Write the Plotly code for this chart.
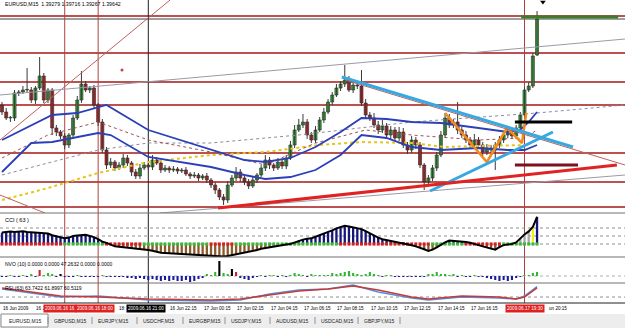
import plotly.graph_objects as go

# ---------------- data ----------------
N_BARS = 129
bar_index = list(range(N_BARS))
PIP = 0.0001

open_ = [1.3878,1.3871,1.3865,1.3865,1.3890,1.3891,1.3893,1.3893,1.3883,1.3895,
         1.3907,1.3883,1.3893,1.3855,1.3851,1.3847,1.3838,1.3848,1.3865,1.3883,
         1.3899,1.3893,1.3895,1.3878,1.3861,1.3833,1.3818,1.3821,1.3815,1.3818,
         1.3825,1.3820,1.3811,1.3807,1.3815,1.3818,1.3816,1.3823,1.3820,1.3813,
         1.3815,1.3813,1.3814,1.3812,1.3813,1.3809,1.3807,1.3808,1.3805,1.3807,
         1.3803,1.3798,1.3793,1.3786,1.3783,1.3798,1.3805,1.3811,1.3805,1.3801,
         1.3797,1.3803,1.3808,1.3815,1.3823,1.3818,1.3815,1.3821,1.3817,1.3825,
         1.3838,1.3853,1.3858,1.3861,1.3848,1.3843,1.3853,1.3863,1.3871,1.3881,
         1.3888,1.3895,1.3899,1.3903,1.3893,1.3898,1.3897,1.3880,1.3868,1.3865,
         1.3858,1.3853,1.3857,1.3848,1.3853,1.3845,1.3851,1.3838,1.3833,1.3843,
         1.3838,1.3818,1.3801,1.3805,1.3815,1.3828,1.3848,1.3865,1.3858,1.3861,
         1.3853,1.3848,1.3843,1.3838,1.3843,1.3838,1.3831,1.3835,1.3833,1.3838,
         1.3843,1.3848,1.3850,1.3847,1.3855,1.3868,1.3893,1.3897,1.3928]
close = [1.3871,1.3865,1.3865,1.3890,1.3891,1.3893,1.3893,1.3883,1.3895,1.3907,
         1.3883,1.3893,1.3855,1.3851,1.3847,1.3838,1.3848,1.3865,1.3883,1.3899,
         1.3893,1.3895,1.3878,1.3861,1.3833,1.3818,1.3821,1.3815,1.3818,1.3825,
         1.3820,1.3811,1.3807,1.3815,1.3818,1.3816,1.3823,1.3820,1.3813,1.3815,
         1.3813,1.3814,1.3812,1.3813,1.3809,1.3807,1.3808,1.3805,1.3807,1.3803,
         1.3798,1.3793,1.3786,1.3783,1.3798,1.3805,1.3811,1.3805,1.3801,1.3797,
         1.3803,1.3808,1.3815,1.3823,1.3818,1.3815,1.3821,1.3817,1.3825,1.3838,
         1.3853,1.3858,1.3861,1.3848,1.3843,1.3853,1.3863,1.3871,1.3881,1.3888,
         1.3895,1.3899,1.3903,1.3893,1.3898,1.3897,1.3880,1.3868,1.3865,1.3858,
         1.3853,1.3857,1.3848,1.3853,1.3845,1.3851,1.3838,1.3833,1.3843,1.3838,
         1.3818,1.3801,1.3805,1.3815,1.3828,1.3848,1.3865,1.3858,1.3861,1.3853,
         1.3848,1.3843,1.3838,1.3843,1.3838,1.3831,1.3835,1.3833,1.3838,1.3843,
         1.3848,1.3850,1.3847,1.3855,1.3868,1.3893,1.3897,1.3927,1.3964]
# wick lengths in pips above / below the body
up_wick = [3,4,2,3,2,4,22,3,2,19,
           3,2,2,3,2,3,2,3,4,13,
           3,2,3,2,3,3,4,2,3,4,
           3,2,3,4,3,2,5,3,2,3,
           2,3,2,2,3,2,3,2,2,3,
           2,3,2,3,4,3,5,3,2,3,
           3,2,3,5,3,2,4,3,3,4,
           5,6,8,3,3,4,3,4,3,3,
           4,3,15,4,3,3,16,4,3,5,
           4,6,3,4,3,5,4,3,4,3,
           3,2,3,3,3,4,5,4,3,20,
           3,4,3,6,3,3,4,3,3,4,
           3,3,4,3,3,3,4,3,8]
lo_wick = [3,2,4,3,3,2,3,3,4,2,
           3,3,7,4,3,4,3,2,2,3,
           2,3,3,4,3,4,3,3,2,3,
           3,4,3,3,2,3,3,2,3,2,
           3,2,3,2,2,3,2,3,2,3,
           3,4,3,5,3,2,3,4,3,3,
           2,3,2,3,4,3,2,3,3,2,
           3,2,3,4,3,3,2,3,2,3,
           2,3,3,2,3,3,3,4,3,3,
           4,3,3,4,3,3,3,4,3,4,
           3,8,3,3,3,2,3,3,3,4,
           3,3,4,3,3,4,3,3,20,3,
           3,3,3,3,3,3,2,2,1]

# moving-average style lines (bar, price)
ma_upper_bars = [0,12,18,23,25,35,50,58,63,69,75,81,86,92,98,105,114,121,124,126,128]
ma_upper_vals = [1.3843,1.3868,1.3870,1.3876,1.3878,1.3853,1.3833,1.3823,1.3821,1.3825,1.3836,
                 1.3851,1.3865,1.3864,1.3861,1.3860,1.3855,1.3851,1.3853,1.3861,1.3871]
ma_lower_bars = [0,7,12,18,23,26,35,50,58,63,69,75,81,86,92,98,105,114,121,125,128]
ma_lower_vals = [1.3811,1.3840,1.3841,1.3846,1.3850,1.3848,1.3826,1.3816,1.3808,1.3804,1.3806,
                 1.3813,1.3828,1.3848,1.3845,1.3836,1.3833,1.3835,1.3833,1.3833,1.3838]
ma_mid_bars = [0,11,23,35,50,63,75,87,98,114,125,128]
ma_mid_vals = [1.3825,1.3848,1.3861,1.3843,1.3831,1.3818,1.3840,1.3853,1.3848,1.3843,1.3845,1.3853]
ma_slow_bars = [0,23,35,50,71,98,128,149]
ma_slow_vals = [1.3808,1.3833,1.3840,1.3840,1.3848,1.3861,1.3870,1.3878]
ma_yellow_bars = [0,11,23,35,50,63,76,86,98,106,114,126]
ma_yellow_vals = [1.3783,1.3795,1.3810,1.3821,1.3828,1.3831,1.3838,1.3841,1.3840,1.3836,1.3837,1.3838]

# horizontal levels and drawn objects
h_levels = [1.3967, 1.3930, 1.3901, 1.3878, 1.3830, 1.3801, 1.3776]
bid_price = 1.3964
v_red_bars = [15, 23, 125]
v_black_bars = [35]
thin_red_lines = [((-0.48, 1.3843), (40.2, 1.3983)), ((-0.48, 1.3788), (10.3, 1.3770)),
                  ((82.1, 1.3903), (149.04, 1.3818))]
thin_gray_lines = [((-0.48, 1.3888), (149.04, 1.3944)), ((37.8, 1.3770), (149.04, 1.3808))]
cyan_lines = [((81.3, 1.3906), (136.6, 1.3836)), ((102.4, 1.3792), (131.8, 1.3851))]
red_thick_line = ((51.7, 1.3775), (147.1, 1.3818))
maroon_level = ((122.7, 137.8), 1.3818)
black_level = ((122.7, 136.4), 1.3861)
green_level = ((124.2, 147.4), 1.3966)
zigzag_bars = [106.0, 116.0, 120.8, 124.4, 125.4]
zigzag_vals = [1.3870, 1.3821, 1.3855, 1.3840, 1.3870]

# CCI(63)
cci = [143,150,157,150,157,160,150,145,140,143,
       135,130,110,100,85,71,80,100,105,114,
       114,100,86,60,30,14,-10,-29,-35,-40,
       -43,-50,-55,-60,-71,-75,-85,-100,-110,-114,
       -118,-120,-125,-129,-129,-132,-135,-138,-140,-143,
       -143,-150,-155,-157,-150,-140,-130,-114,-105,-95,
       -86,-75,-60,-50,-43,-35,-25,-15,-5,0,
       20,43,55,65,71,90,110,130,143,170,
       195,215,229,220,210,200,186,160,130,100,
       80,60,50,43,30,20,14,0,-15,-30,
       -43,-65,-86,-70,-43,-10,20,43,40,35,
       29,25,15,5,-14,-30,-45,-60,-71,-40,
       -14,-5,0,20,71,120,157,214,340]
cci_levels = [0, 100, 200]
cci_trend_segments = [(0,14,'dn'),(15,24,'up'),(25,33,'dn'),(34,49,'up'),(50,55,'dn'),
                      (56,80,'up'),(81,102,'dn'),(103,110,'up'),(111,119,'dn'),(120,128,'up')]
cci_special = {124:'gray', 125:'gray', 126:'gray', 127:'yellow'}

# NVO(10)
nvo = [-1,-1,1,-1,-1,1,-1,2,-1,6,
       1,3,2,-1,2,-1,-1,-1,1,-1,
       -1,-1,-1,-1,1,-1,-1,-1,-1,-1,
       -2,-2,-3,-2,-3,-4,-3,-4,-5,-4,
       -5,-4,-5,-5,-4,-6,-5,-3,-2,2,
       1,4,15,3,2,7,4,-2,-3,-4,
       -2,-1,1,-1,1,1,-1,1,-1,1,
       3,2,1,-1,2,1,1,1,1,3,
       2,3,4,5,3,2,1,2,4,2,
       1,-1,1,1,-1,-1,-1,-1,-1,-1,
       -1,-1,2,2,4,2,2,1,2,-1,
       1,-1,-1,1,-1,-1,-2,-3,-4,-5,
       -4,-5,-4,-2,-1,1,1,3,4]
nvo_special = {9:'red', 14:'black', 52:'black', 55:'black', 56:'red'}

# third oscillator
osc_bars = [0,7,14,23,35,50,57,64,71,78,84,90,98,102,110,119,123,125,128]
osc_red = [57.5,47.5,37.5,35,30,27.5,30,40,50,55,62.5,52.5,35,30,37.5,35,30,35,58]
osc_blue = [55,45,35,37.5,27.5,25,27.5,42.5,52.5,55,65,47.5,32.5,27.5,35,32.5,30,37.5,61]
osc_level = 35

# time axis: visible (partly covered) labels, label boxes of the vertical lines
time_label_bars = [0, 8, 24, 40, 48, 56, 64, 72, 80, 88, 96, 104, 112, 128]
time_label_texts = ["16 Jun 2009", "16 J", "18:", "16 Jun 22:15", "17 Jun 00:15", "17 Jun 02:15",
                    "17 Jun 04:15", "17 Jun 06:15", "17 Jun 08:15", "17 Jun 10:15", "17 Jun 12:15",
                    "17 Jun 14:15", "17 Jun 16:15", "un 20:15"]
time_label_shift = [-1, -1, 15, -1, -1, -1, -1, -1, -1, -1, -1, -1, -1, 10]
vline_labels = [(15, "2009.06.16 16", "#e02020", -5), (23, "2009.06.16 18:00", "#e02020", -3),
                (35, "2009.06.16 21:00", "#000000", -2), (125, "2009.06.17 19:30", "#e02020", 0)]
tabs = ["EURUSD,M15","GBPUSD,M15","EURJPY,M15","USDCHF,M15","EURGBP,M15",
        "USDJPY,M15","AUDUSD,M15","USDCAD,M15","GBPJPY,M15"]

# ---------------- layout helpers ----------------
W, H = 625, 328
def py(ypx):
    return 1 - ypx / H
def pxr(xpx):
    return xpx / W

MAIN_D = [py(213), 1.0]
CCI_D = [py(257), py(213)]
NVO_D = [py(283), py(257)]
OSC_D = [py(303), py(283)]
FONT = "Liberation Sans, Arial, sans-serif"

fig = go.Figure()

# candles: wicks
wx, wy = [], []
for i in bar_index:
    hi = max(open_[i], close[i]) + up_wick[i] * PIP
    lo = min(open_[i], close[i]) - lo_wick[i] * PIP
    wx += [i, i, None]
    wy += [lo, hi, None]
fig.add_trace(go.Scatter(x=wx, y=wy, mode='lines', line=dict(color='#3a3a3a', width=1),
                         xaxis='x', yaxis='y', hoverinfo='skip'))
body_base = [min(o, c) for o, c in zip(open_, close)]
body_h = [max(abs(c - o), 0.00006) for o, c in zip(open_, close)]
body_col = ['#34b334' if c >= o else '#d42020' for o, c in zip(open_, close)]
fig.add_trace(go.Bar(x=bar_index, y=body_h, base=body_base, width=0.72,
                     marker=dict(color=body_col, line=dict(color='#1e1e1e', width=0.6)),
                     xaxis='x', yaxis='y'))

# MA lines
fig.add_trace(go.Scatter(x=ma_yellow_bars, y=ma_yellow_vals, mode='lines',
                         line=dict(color='#e8c419', width=2, dash='dot'), xaxis='x', yaxis='y'))
fig.add_trace(go.Scatter(x=ma_slow_bars, y=ma_slow_vals, mode='lines',
                         line=dict(color='#8c8ca0', width=1, dash='dot'), xaxis='x', yaxis='y'))
fig.add_trace(go.Scatter(x=ma_mid_bars, y=ma_mid_vals, mode='lines',
                         line=dict(color='#a05050', width=1, dash='dot'), xaxis='x', yaxis='y'))
for bx, vy in [(ma_upper_bars, ma_upper_vals), (ma_lower_bars, ma_lower_vals)]:
    fig.add_trace(go.Scatter(x=bx, y=vy, mode='lines', line=dict(color='#2b3fb8', width=1.8),
                             xaxis='x', yaxis='y'))
# orange zigzag
fig.add_trace(go.Scatter(x=zigzag_bars, y=zigzag_vals, mode='lines',
                         line=dict(color='#f28a1c', width=2.5), xaxis='x', yaxis='y'))

# CCI panel
cci_col = []
for i, v in enumerate(cci):
    if i in cci_special:
        cci_col.append('#a8a8a8' if cci_special[i] == 'gray' else '#f0f020')
    else:
        cci_col.append('#16167a' if v >= 0 else '#8b5a2b')
fig.add_trace(go.Bar(x=bar_index, y=cci, base=0, width=0.55, marker=dict(color=cci_col, line=dict(width=0)),
                     xaxis='x', yaxis='y2'))
strip_col = []
for i in bar_index:
    for a, b, t in cci_trend_segments:
        if a <= i <= b:
            strip_col.append('#3cb83c' if t == 'up' else '#d42020')
            break
fig.add_trace(go.Bar(x=bar_index, y=[40] * N_BARS, base=-20, width=0.7,
                     marker=dict(color=strip_col, line=dict(width=0)), xaxis='x', yaxis='y2'))
fig.add_trace(go.Scatter(x=bar_index, y=cci, mode='lines', line=dict(color='black', width=2),
                         xaxis='x', yaxis='y2'))

# NVO panel
nvo_map = {'red': '#d02020', 'black': '#000000'}
nvo_col = [nvo_map[nvo_special[i]] if i in nvo_special else ('#2db82d' if v > 0 else '#1a1aa0')
           for i, v in enumerate(nvo)]
fig.add_trace(go.Bar(x=bar_index, y=nvo, base=0, width=0.5, marker=dict(color=nvo_col, line=dict(width=0)),
                     xaxis='x', yaxis='y3'))

# oscillator panel
fig.add_trace(go.Scatter(x=osc_bars, y=osc_blue, mode='lines', line=dict(color='#4f8fdc', width=1.5),
                         xaxis='x', yaxis='y4'))
fig.add_trace(go.Scatter(x=osc_bars, y=osc_red, mode='lines', line=dict(color='#c83a3a', width=1.5),
                         xaxis='x', yaxis='y4'))

# markers on main chart
fig.add_trace(go.Scatter(x=[129.4], y=[1.3981], mode='markers',
                         marker=dict(symbol='triangle-down', size=5, color='black'), xaxis='x', yaxis='y'))
fig.add_trace(go.Scatter(x=[28.7], y=[1.3913], mode='markers',
                         marker=dict(symbol='circle', size=3, color='#d04040'), xaxis='x', yaxis='y'))

shapes = []
# horizontal levels (under candles)
for lv in h_levels:
    shapes.append(dict(type='line', xref='paper', x0=0, x1=1, yref='y', y0=lv, y1=lv,
                       line=dict(color='#a31818', width=1.3), layer='below'))
shapes.append(dict(type='line', xref='paper', x0=0, x1=1, yref='y', y0=bid_price, y1=bid_price,
                   line=dict(color='#404040', width=1), layer='below'))
# vertical lines through all panels
for b in v_red_bars:
    shapes.append(dict(type='line', xref='x', x0=b, x1=b, yref='paper', y0=py(303), y1=1,
                       line=dict(color='#b04040', width=1), layer='below'))
for b in v_black_bars:
    shapes.append(dict(type='line', xref='x', x0=b, x1=b, yref='paper', y0=py(303), y1=1,
                       line=dict(color='#202020', width=1), layer='below'))
# thin trend lines
for (a, b) in thin_red_lines:
    shapes.append(dict(type='line', xref='x', yref='y', x0=a[0], y0=a[1], x1=b[0], y1=b[1],
                       line=dict(color='#c06060', width=1)))
for (a, b) in thin_gray_lines:
    shapes.append(dict(type='line', xref='x', yref='y', x0=a[0], y0=a[1], x1=b[0], y1=b[1],
                       line=dict(color='#9a9aa8', width=1)))
for (a, b) in cyan_lines:
    shapes.append(dict(type='line', xref='x', yref='y', x0=a[0], y0=a[1], x1=b[0], y1=b[1],
                       line=dict(color='#36a9e1', width=3)))
a, b = red_thick_line
shapes.append(dict(type='line', xref='x', yref='y', x0=a[0], y0=a[1], x1=b[0], y1=b[1],
                   line=dict(color='#e02222', width=3)))
for (xs, lv), col in [(maroon_level, '#7a1020'), (black_level, '#000000'), (green_level, '#3f7a2a')]:
    shapes.append(dict(type='line', xref='x', yref='y', x0=xs[0], x1=xs[1], y0=lv, y1=lv,
                       line=dict(color=col, width=3)))
# sub-panel dotted levels
for lv in cci_levels:
    shapes.append(dict(type='line', xref='paper', x0=0, x1=1, yref='y2', y0=lv, y1=lv,
                       line=dict(color='#909090', width=1, dash='dot'), layer='below'))
shapes.append(dict(type='line', xref='paper', x0=0, x1=1, yref='y3', y0=0, y1=0,
                   line=dict(color='#b0b0b0', width=1, dash='dot'), layer='below'))
shapes.append(dict(type='line', xref='paper', x0=0, x1=1, yref='y4', y0=osc_level, y1=osc_level,
                   line=dict(color='#909090', width=1, dash='dot'), layer='below'))
# panel separators
for yp in [213, 257, 283]:
    shapes.append(dict(type='line', xref='paper', x0=0, x1=1, yref='paper', y0=py(yp), y1=py(yp),
                       line=dict(color='#707070', width=1)))
shapes.append(dict(type='line', xref='paper', x0=0, x1=1, yref='paper', y0=py(303), y1=py(303),
                   line=dict(color='#202020', width=1)))
# tab bar
shapes.append(dict(type='rect', xref='paper', yref='paper', x0=0, x1=1, y0=0, y1=py(314),
                   fillcolor='#ededed', line=dict(width=0)))
shapes.append(dict(type='rect', xref='paper', yref='paper', x0=pxr(1), x1=pxr(48), y0=py(327), y1=py(314),
                   fillcolor='#ffffff', line=dict(color='#8a8a8a', width=1)))
tab_x = [7, 52, 96, 141, 187, 229, 274, 319, 362]
for tx in tab_x[1:] + [404]:
    shapes.append(dict(type='line', xref='paper', yref='paper', x0=pxr(tx - 4), x1=pxr(tx - 4),
                       y0=py(324), y1=py(317), line=dict(color='#909090', width=1)))

ann = []
ann.append(dict(text="EURUSD,M15  1.39279 1.39716 1.39267 1.39642", xref='paper', yref='paper',
                x=pxr(3), y=py(4), xanchor='left', yanchor='middle', showarrow=False,
                font=dict(family=FONT, size=5.2, color='black')))
ann.append(dict(text="CCI ( 63 )", xref='paper', yref='paper', x=pxr(3), y=py(220), xanchor='left',
                yanchor='middle', showarrow=False, font=dict(family=FONT, size=5.5, color='black')))
ann.append(dict(text="NVO (10) 0.0000 0.0000 47.2632 0.0000 0.0000", xref='paper', yref='paper',
                x=pxr(3), y=py(264), xanchor='left', yanchor='middle', showarrow=False,
                font=dict(family=FONT, size=5, color='black')))
ann.append(dict(text="RSI (63) 63.7422 61.8997 60.5119", xref='paper', yref='paper',
                x=pxr(3), y=py(288), xanchor='left', yanchor='middle', showarrow=False,
                font=dict(family=FONT, size=5, color='black')))
for b, t, sh in zip(time_label_bars, time_label_texts, time_label_shift):
    ann.append(dict(text=t, xref='x', yref='paper', x=b, y=py(308.5), xanchor='left', yanchor='middle',
                    showarrow=False, font=dict(family=FONT, size=4.6, color='black'), xshift=sh))
for b, t, col, sh in vline_labels:
    ann.append(dict(text=t, xref='x', yref='paper', x=b, y=py(308.5), xanchor='center', yanchor='middle',
                    showarrow=False, bgcolor=col, borderpad=1, xshift=sh,
                    font=dict(family=FONT, size=4.6, color='white')))
for tx, t in zip(tab_x, tabs):
    ann.append(dict(text=t, xref='paper', yref='paper', x=pxr(tx), y=py(320.5), xanchor='left',
                    yanchor='middle', showarrow=False, font=dict(family=FONT, size=5, color='#202020')))

fig.update_layout(
    width=W, height=H, margin=dict(l=0, r=0, t=0, b=0),
    paper_bgcolor='white', plot_bgcolor='white', showlegend=False, barmode='overlay',
    xaxis=dict(range=[-0.48, 149.04], visible=False, domain=[0, 1], anchor='y'),
    yaxis=dict(domain=MAIN_D, range=[1.3770, 1.3983], visible=False),
    yaxis2=dict(domain=CCI_D, range=[-162.5, 387.5], visible=False, anchor='x'),
    yaxis3=dict(domain=NVO_D, range=[-7, 19], visible=False, anchor='x'),
    yaxis4=dict(domain=OSC_D, range=[20, 70], visible=False, anchor='x'),
    shapes=shapes, annotations=ann,
)
fig.write_html("out.html")
